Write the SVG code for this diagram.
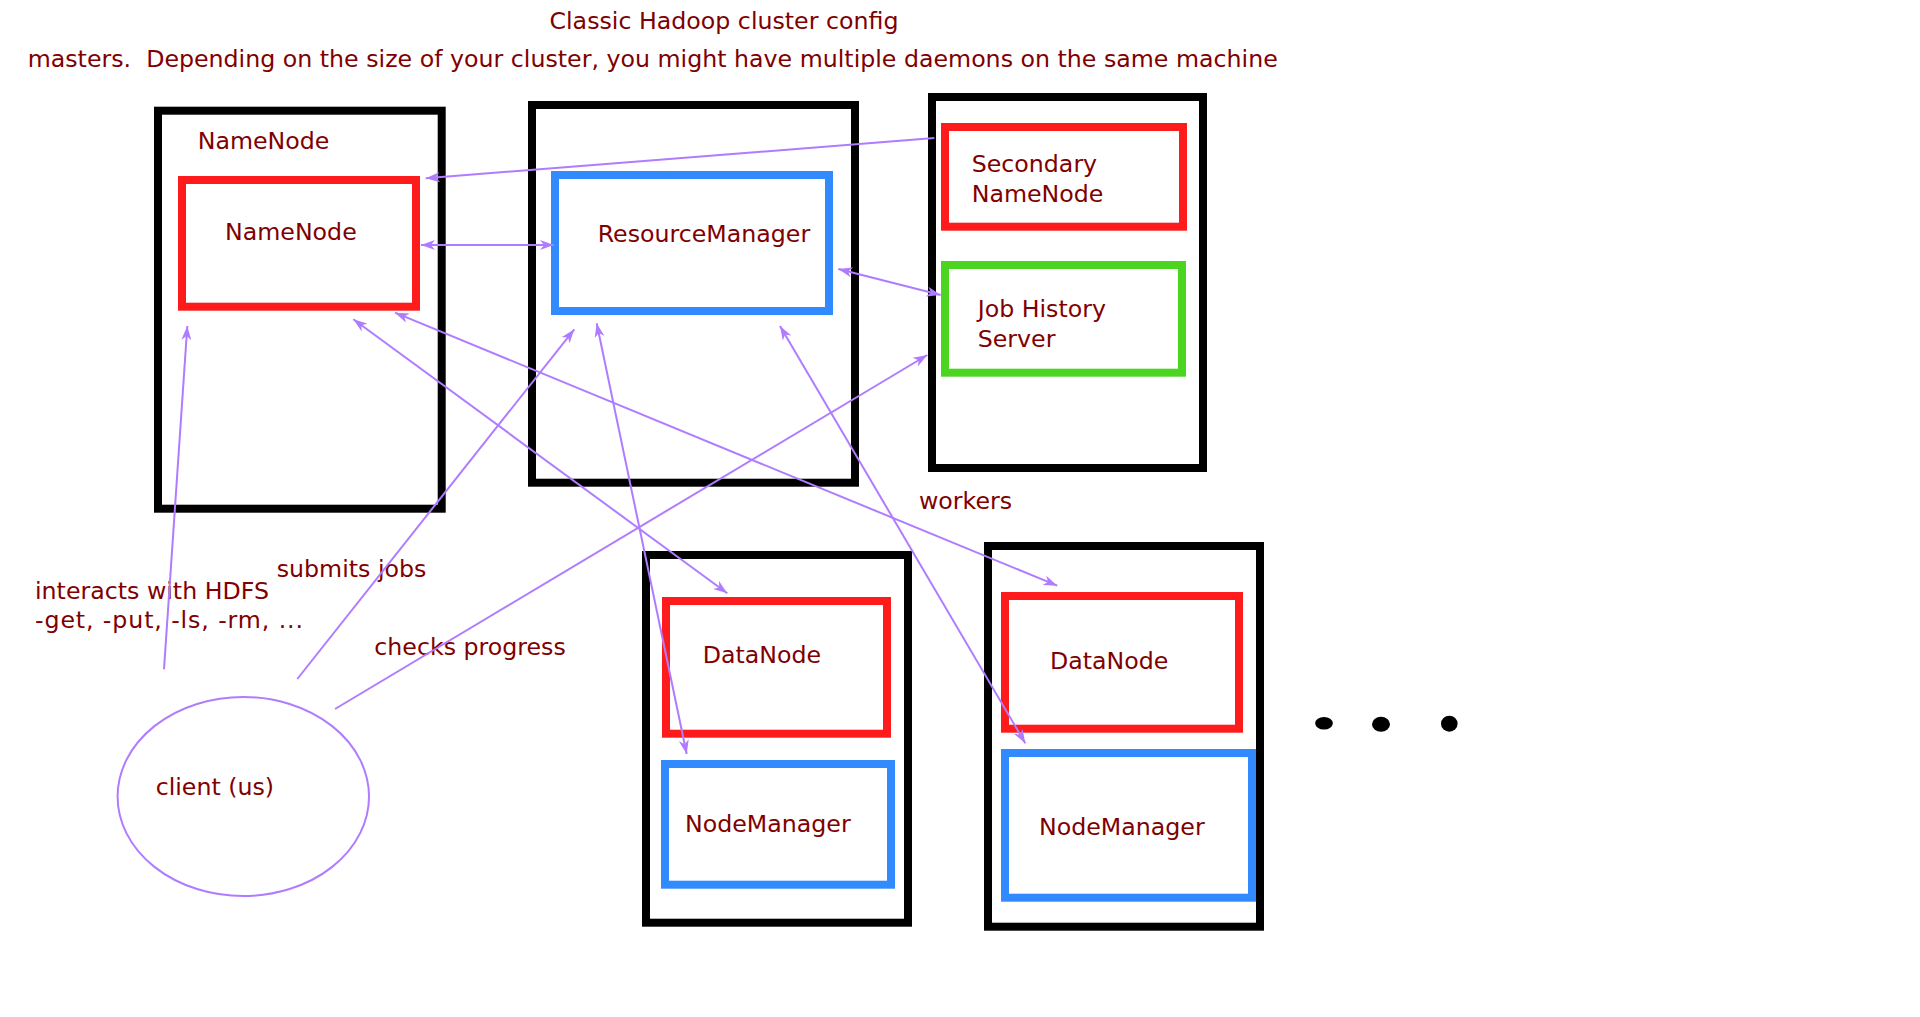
<svg xmlns="http://www.w3.org/2000/svg" width="1920" height="1017" viewBox="0 0 1920 1017">
<defs>
<style>
.t{font-family:"DejaVu Sans","Verdana",sans-serif;font-size:23.7px;fill:#800000}
.host{fill:none;stroke:#000;stroke-width:8}
.red{fill:none;stroke:#fe1b1b;stroke-width:8}
.blue{fill:none;stroke:#328bfe;stroke-width:8}
.green{fill:none;stroke:#4bd520;stroke-width:8}
.c{fill:none;stroke:#b07cff;stroke-width:2}
.one{marker-end:url(#ah)}
.two{marker-start:url(#ah);marker-end:url(#ah)}
</style>
<marker id="ah" viewBox="0 0 14 10" refX="14" refY="5" markerWidth="14" markerHeight="10" markerUnits="userSpaceOnUse" orient="auto-start-reverse">
<path d="M0,0 L14,5 L0,10 L4,5 z" fill="#b07cff"/>
</marker>
</defs>
<rect width="1920" height="1017" fill="#fff"/>
<text class="t" x="549.5" y="28.5">Classic Hadoop cluster config</text>
<text class="t" x="27.7" y="67" xml:space="preserve">masters.  Depending on the size of your cluster, you might have multiple daemons on the same machine</text>

<g id="namenode-host">
<rect class="host" x="158" y="110.7" width="283.7" height="398"/>
<text class="t" x="197.7" y="149.3">NameNode</text>
</g>
<g id="namenode">
<rect class="red" x="182" y="180" width="234" height="126.7"/>
<text class="t" x="225" y="240">NameNode</text>
</g>
<g id="rm-host">
<rect class="host" x="532" y="105" width="323" height="377.7"/>
</g>
<g id="resourcemanager">
<rect class="blue" x="555" y="175" width="274" height="136"/>
<text class="t" x="597.7" y="241.7">ResourceManager</text>
</g>
<g id="secondary-host">
<rect class="host" x="932" y="97" width="271" height="371"/>
</g>
<g id="secondary-namenode">
<rect class="red" x="945" y="127" width="238" height="99.7"/>
<text class="t" x="971.7" y="172.3">Secondary</text>
<text class="t" x="971.7" y="201.7">NameNode</text>
</g>
<g id="job-history-server">
<rect class="green" x="945" y="265" width="237" height="107.7"/>
<text class="t" x="977.7" y="317.3">Job History</text>
<text class="t" x="977.7" y="346.7">Server</text>
</g>
<g id="workers-label">
<text class="t" x="919" y="509">workers</text>
</g>
<g id="worker1">
<rect class="host" x="646" y="555" width="262" height="367.7"/>
</g>
<g id="datanode1">
<rect class="red" x="666" y="601" width="221" height="132.7"/>
<text class="t" x="702.7" y="663.3">DataNode</text>
</g>
<g id="nodemanager1">
<rect class="blue" x="665" y="764" width="226" height="120.7"/>
<text class="t" x="685" y="832.3">NodeManager</text>
</g>
<g id="worker2">
<rect class="host" x="988" y="546" width="272" height="380.7"/>
</g>
<g id="datanode2">
<rect class="red" x="1005" y="596" width="234" height="132.7"/>
<text class="t" x="1050" y="669">DataNode</text>
</g>
<g id="nodemanager2">
<rect class="blue" x="1005" y="753" width="247" height="144.7"/>
<text class="t" x="1039" y="835">NodeManager</text>
</g>
<g id="more-workers">
<ellipse cx="1324" cy="723.3" rx="8.8" ry="6.3" fill="#000"/>
<ellipse cx="1381" cy="724.3" rx="9" ry="7.5" fill="#000"/>
<ellipse cx="1449.3" cy="723.7" rx="8.3" ry="8" fill="#000"/>
</g>
<g id="client">
<ellipse cx="243.3" cy="796.5" rx="125.7" ry="99.5" fill="none" stroke="#b07cff" stroke-width="2"/>
<text class="t" x="155.7" y="795">client (us)</text>
</g>
<g id="labels">
<text class="t" x="35" y="599.3">interacts with HDFS</text>
<text class="t" x="35" y="628.3" textLength="268" lengthAdjust="spacing">-get, -put, -ls, -rm, ...</text>
<text class="t" x="276.7" y="576.7">submits jobs</text>
<text class="t" x="374.3" y="655">checks progress</text>
</g>

<g id="connectors">
<line class="c one" x1="934.3" y1="138" x2="425.7" y2="178.3"/>
<line class="c two" x1="421" y1="245" x2="554" y2="245"/>
<line class="c two" x1="838.3" y1="269" x2="940.7" y2="295"/>
<line class="c one" x1="164" y1="669.3" x2="187.3" y2="326"/>
<line class="c one" x1="297.3" y1="679" x2="574.3" y2="329.3"/>
<line class="c one" x1="335" y1="709" x2="927.3" y2="355"/>
<line class="c two" x1="353.3" y1="319.3" x2="727.3" y2="593.3"/>
<line class="c two" x1="395" y1="312.7" x2="1057.3" y2="585.7"/>
<line class="c two" x1="596.7" y1="323.3" x2="686.7" y2="754"/>
<line class="c two" x1="780" y1="326" x2="1025.3" y2="743.3"/>
</g>
</svg>
